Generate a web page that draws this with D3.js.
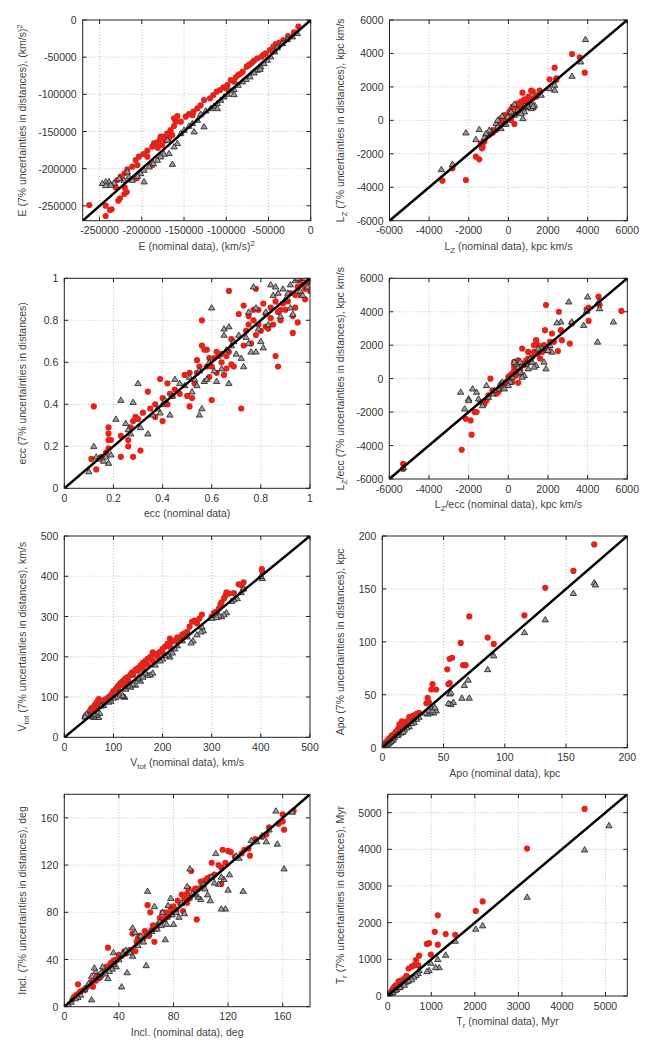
<!DOCTYPE html>
<html>
<head>
<meta charset="utf-8">
<script src="https://cdn.jsdelivr.net/npm/d3@7"></script>
<style>
  body { margin: 0; background: #fff; }
  svg { display: block; font-family: "Liberation Sans", Arial, sans-serif; }
</style>
</head>
<body>
<svg id="chart" width="649" height="1046"></svg>
<script>
// Orbital parameters: nominal data vs. 7% distance uncertainties
// red = circles, gray = triangles; pairs are [nominal, perturbed]

// E, in units of 1000 (km/s)^2
const eRed = [
  [-14.6,-9.0],[-19.7,-16.6],[-26.8,-21.5],[-32.4,-26.9],[-37.1,-30.5],[-41.4,-32.3],[-44.2,-35.9],
  [-48.2,-40.4],[-53.3,-44.9],[-58.0,-49.3],[-63.2,-51.6],[-67.1,-54.7],[-73.0,-60.5],[-75.8,-62.8],
  [-80.5,-69.5],[-83.7,-72.7],[-88.8,-77.1],[-90.8,-83.0],[-94.7,-80.7],[-98.7,-87.5],[-103.4,-90.6],
  [-107.4,-94.2],[-111.3,-96.4],[-115.3,-100.9],[-119.2,-105.4],[-126.3,-107.6],[-130.3,-114.8],
  [-134.2,-118.9],[-138.9,-123.3],[-144.1,-126.5],[-148.0,-130.1],[-153.9,-136.8],[-159.9,-136.8],
  [-161.8,-142.6],[-165.8,-148.0],[-169.7,-152.5],[-173.7,-157.0],[-178.4,-160.6],[-182.4,-165.0],
  [-187.5,-170.4],[-193.4,-175.8],[-198.1,-180.3],[-203.3,-183.9],[-207.2,-188.4],[-211.2,-197.3],
  [-217.1,-200.9],[-220.2,-206.3],[-225.0,-210.8],[-228.9,-215.3],[-205.2,-195.1],[-193.4,-183.9],
  [-185.5,-165.9],[-177.6,-157.0],[-161.8,-132.3],[-157.9,-129.2],[-187.5,-195.1],[-206.0,-213.0],
  [-262.2,-248.9],[-242.8,-249.8],[-242.8,-263.7],[-237.7,-255.6],[-235.7,-254.7],[-227.8,-243.1],
  [-225.8,-239.9],[-220.7,-234.1],[-217.9,-231.4],[-220.2,-225.6],[-230.9,-225.1],[-172.0,-162.0],
  [-176.0,-168.0],[-168.0,-160.0],[-181.0,-172.0],[-164.0,-155.0],[-140.0,-128.0],[-100.0,-92.0],
  [-86.0,-74.0],[-70.0,-58.0],[-56.0,-47.0]
];
const eGray = [
  [-15.8,-17.9],[-21.7,-22.4],[-27.6,-26.0],[-33.5,-31.4],[-39.5,-36.8],[-42.6,-42.6],[-47.4,-49.3],
  [-51.3,-53.8],[-55.3,-58.3],[-59.2,-62.8],[-63.2,-67.3],[-67.1,-70.9],[-71.8,-76.2],[-76.6,-79.8],
  [-80.9,-83.0],[-86.0,-87.5],[-90.8,-93.3],[-94.7,-95.1],[-98.7,-99.6],[-102.6,-103.2],[-106.6,-107.6],
  [-110.5,-112.1],[-114.5,-115.7],[-118.4,-118.9],[-124.3,-122.0],[-130.3,-126.5],[-134.2,-134.6],
  [-140.1,-139.0],[-144.1,-142.6],[-150.0,-148.0],[-153.9,-152.5],[-157.9,-165.9],[-161.8,-170.4],
  [-163.8,-193.8],[-167.7,-179.4],[-173.7,-180.3],[-177.6,-183.9],[-181.6,-188.4],[-186.3,-192.9],
  [-191.4,-197.3],[-197.3,-201.8],[-201.3,-206.3],[-197.3,-217.5],[-205.2,-209.9],[-211.2,-215.3],
  [-215.1,-210.8],[-217.1,-204.1],[-221.0,-215.3],[-226.9,-213.0],[-232.9,-218.9],[-238.8,-217.5],
  [-242.7,-217.5],[-246.7,-219.8],[-236.8,-222.0],[-242.7,-222.5],[-169.7,-161.5],[-138.1,-150.2],
  [-126.3,-143.5],[-110.5,-118.9],[-90.8,-100.0],[-60.0,-66.0]
];

// L_Z, kpc km/s
const lzRed = [
  [3211,3966],[2332,3149],[3853,2850],[3600,3767],[2417,2511],[2079,2451],[2417,2411],[1572,1774],
  [1234,1714],[1149,1774],[710,1654],[1014,1415],[811,1256],[642,1116],[473,1016],[304,857],[135,658],
  [51,518],[220,817],[389,777],[558,917],[811,977],[980,1216],[389,419],[220,319],[-118,219],[-203,319],
  [-287,60],[-372,-80],[-541,-279],[-625,-578],[-794,-737],[-963,-877],[-1132,-977],[-1217,-1276],
  [-1301,-1575],[-1386,-1375],[-1335,-1674],[-1639,-2172],[-1470,-2332],[-2146,-3567],[-3330,-3607],
  [-2823,-2870],[304,-219],[135,20],[558,618],[642,777],[811,717],[1065,1016],[1234,1315],[1403,1415],
  [1487,1515],[-34,319],[-118,20],[-372,120],[473,717],[-794,-578],[700,900],[500,600],[900,800]
];
const lzGray = [
  [3887,4843],[3651,3508],[3211,2651],[2332,2113],[2079,1913],[2332,1814],[1656,1515],[1149,817],
  [1234,777],[1149,717],[980,817],[811,518],[727,120],[642,419],[473,618],[304,977],[135,518],[-34,219],
  [-203,-219],[-372,-478],[-625,-179],[-541,-379],[-879,-678],[-963,-578],[-1132,-777],[-1217,-1016],
  [-1470,-538],[-1639,-1136],[-2146,-737],[-2823,-2611],[-3381,-2930],[-118,-219],[-541,20],[-321,259],
  [304,319],[811,857],[1318,917],[1200,950],[1250,850]
];

// eccentricity
const eccRed = [
  [0.12,0.39],[0.11,0.14],[0.13,0.09],[0.15,0.15],[0.17,0.17],[0.18,0.29],[0.18,0.26],[0.18,0.23],
  [0.19,0.23],[0.18,0.19],[0.23,0.25],[0.23,0.15],[0.26,0.23],[0.26,0.20],[0.27,0.29],[0.28,0.15],
  [0.29,0.34],[0.30,0.33],[0.31,0.18],[0.32,0.36],[0.28,0.32],[0.34,0.46],[0.37,0.40],[0.37,0.34],
  [0.39,0.52],[0.40,0.32],[0.40,0.43],[0.42,0.40],[0.42,0.50],[0.43,0.45],[0.44,0.44],[0.45,0.47],
  [0.47,0.45],[0.49,0.54],[0.50,0.44],[0.51,0.39],[0.51,0.55],[0.52,0.43],[0.53,0.50],[0.54,0.55],
  [0.54,0.61],[0.56,0.68],[0.56,0.80],[0.57,0.66],[0.58,0.66],[0.59,0.62],[0.60,0.42],[0.60,0.58],
  [0.62,0.55],[0.62,0.65],[0.64,0.64],[0.64,0.60],[0.65,0.54],[0.66,0.57],[0.66,0.63],[0.67,0.94],
  [0.67,0.65],[0.68,0.59],[0.68,0.71],[0.69,0.58],[0.71,0.83],[0.72,0.38],[0.73,0.68],[0.73,0.87],
  [0.74,0.75],[0.75,0.78],[0.75,0.82],[0.76,0.69],[0.77,0.85],[0.77,0.80],[0.78,0.73],[0.78,0.95],
  [0.79,0.85],[0.79,0.78],[0.80,0.75],[0.81,0.88],[0.82,0.83],[0.82,0.77],[0.83,0.76],[0.84,0.81],
  [0.85,0.78],[0.86,0.63],[0.87,0.58],[0.86,0.89],[0.87,0.84],[0.88,0.80],[0.88,0.85],[0.89,0.88],
  [0.90,0.85],[0.91,0.89],[0.92,0.93],[0.93,0.74],[0.93,0.82],[0.94,0.86],[0.94,0.92],[0.95,0.79],
  [0.95,0.96],[0.96,0.92],[0.97,0.97],[0.98,0.95],[0.99,0.98],[1.00,0.94],[0.96,0.99],[0.98,0.90],
  [0.84,0.86],[0.55,0.58],[0.59,0.53],[0.35,0.38],[0.58,0.58],[0.61,0.62],[0.63,0.63]
];
const eccGray = [
  [0.10,0.08],[0.12,0.20],[0.13,0.15],[0.14,0.14],[0.16,0.13],[0.17,0.15],[0.18,0.12],[0.19,0.16],
  [0.21,0.33],[0.23,0.42],[0.25,0.31],[0.26,0.28],[0.27,0.26],[0.28,0.41],[0.30,0.50],[0.31,0.29],
  [0.34,0.26],[0.36,0.35],[0.38,0.38],[0.39,0.36],[0.40,0.40],[0.41,0.42],[0.43,0.35],[0.44,0.44],
  [0.45,0.52],[0.47,0.50],[0.49,0.49],[0.51,0.53],[0.52,0.46],[0.53,0.52],[0.54,0.49],[0.55,0.56],
  [0.55,0.35],[0.56,0.38],[0.57,0.51],[0.58,0.52],[0.59,0.60],[0.60,0.86],[0.61,0.56],[0.62,0.51],
  [0.64,0.57],[0.65,0.73],[0.65,0.76],[0.66,0.66],[0.67,0.50],[0.67,0.77],[0.68,0.68],[0.69,0.70],
  [0.70,0.64],[0.71,0.73],[0.72,0.62],[0.73,0.58],[0.74,0.72],[0.75,0.69],[0.76,0.65],[0.77,0.96],
  [0.78,0.65],[0.78,0.86],[0.79,0.76],[0.80,0.70],[0.81,0.67],[0.82,0.84],[0.83,0.78],[0.84,0.97],
  [0.85,0.92],[0.86,0.96],[0.87,0.93],[0.88,0.82],[0.89,0.95],[0.90,0.90],[0.91,0.93],[0.92,0.86],
  [0.93,0.83],[0.94,0.99],[0.95,1.00],[0.96,0.94],[0.97,0.92],[0.98,1.00],[0.99,0.96],[0.75,0.84],
  [0.92,0.97]
];

// L_Z / ecc, kpc km/s
const lzeRed = [
  [5700,4050],[4550,4900],[4600,4400],[4050,4250],[3950,4150],[4050,3450],[3100,2100],[3200,3300],
  [2650,2900],[2700,2300],[2550,4000],[1900,4400],[1850,2900],[2500,1650],[2200,2700],[2100,2200],
  [2000,1800],[1800,2000],[1700,1600],[1600,1200],[1500,2000],[1400,2300],[1300,1600],[1200,1300],
  [1100,1000],[1000,1600],[900,1100],[800,800],[700,1800],[600,500],[500,900],[400,600],[300,700],
  [200,300],[100,200],[0,100],[-100,-200],[-200,-300],[-300,-500],[-400,-600],[-500,-800],[-600,-900],
  [-800,-700],[-900,0],[-1000,-1000],[-1100,-1300],[-1200,-1500],[-1400,-1400],[-1600,-2000],
  [-1700,-2000],[-1900,-2500],[-1850,-3350],[-2150,-2400],[-2350,-4250],[-5300,-5100],[-5300,-5400],
  [300,1000],[400,200],[500,1100],[200,-200],[600,300],[1300,2000],[1900,1700],[500,-250],[300,500],
  [700,900],[1000,1200],[1500,1500],[2300,2200]
];
const lzeGray = [
  [5300,3400],[4500,2200],[4600,4200],[4550,4600],[4000,4900],[3950,4050],[3800,3200],[3050,4600],
  [3200,3400],[2650,3400],[2450,3350],[2200,1600],[1900,600],[1800,1000],[2100,2000],[2000,1700],
  [1700,1800],[1500,1800],[1400,800],[1300,700],[1200,1000],[1100,1200],[1000,600],[800,200],[700,100],
  [600,400],[500,700],[400,900],[300,1000],[200,100],[100,-200],[0,-400],[-200,-600],[-400,-300],
  [-500,-600],[-700,-700],[-800,-900],[-1000,-1100],[-1100,-400],[-1300,-1600],[-1500,-1200],
  [-1600,-800],[-1800,-600],[-2000,-1200],[-2000,-1300],[-2200,-1800],[-2400,-800],[-5300,-5300],
  [-300,-200],[900,900],[600,1000]
];

// V_tot, km/s
const vRed = [
  [402,418],[403,412],[365,385],[360,378],[355,380],[365,368],[345,358],[330,360],[328,352],[325,345],
  [320,335],[318,330],[315,320],[310,312],[305,310],[280,305],[275,295],[265,290],[260,287],[270,283],
  [255,275],[250,262],[245,258],[240,255],[230,248],[225,240],[220,238],[215,245],[210,232],[205,225],
  [200,220],[195,212],[190,208],[180,211],[185,205],[175,200],[170,195],[165,190],[160,185],[158,180],
  [155,178],[150,172],[145,168],[140,162],[137,160],[135,155],[130,150],[128,145],[125,147],[122,142],
  [120,140],[118,138],[115,135],[112,130],[110,128],[108,125],[105,120],[100,115],[98,110],[95,105],
  [90,100],[85,95],[80,92],[75,88],[70,95],[68,90],[65,85],[62,80],[60,75],[55,72],[52,65],[50,60],
  [45,55],[42,50],[65,70],[72,80],[90,95],[100,105],[110,118],[120,130],[140,155],[150,165],[160,170],
  [170,180],[180,190],[190,200],[200,210],[215,225],[230,240],[240,248],[250,258],[125,135],[130,140],
  [335,357],[300,300]
];
const vGray = [
  [403,395],[400,400],[365,370],[360,360],[352,345],[345,342],[340,338],[330,310],[325,305],[320,300],
  [315,302],[310,298],[300,296],[283,265],[278,262],[270,255],[262,240],[258,235],[250,250],[240,240],
  [230,228],[220,210],[215,200],[210,205],[205,203],[200,195],[195,190],[180,160],[175,155],[170,155],
  [165,160],[160,150],[155,140],[150,145],[145,130],[140,132],[135,125],[125,120],[123,100],[120,102],
  [118,104],[110,108],[105,100],[100,98],[95,90],[90,88],[80,80],[75,78],[72,60],[70,50],[65,55],
  [60,50],[55,52],[50,55],[45,58],[42,52],[60,58],[150,148],[130,128],[185,180],[225,220],[280,275]
];

// Apocentre, kpc
const apoRed = [
  [173,192],[156,167],[133,151],[116,125],[71,124],[64,99],[86,104],[91,98],[68,78],[66,78],[57,85],
  [55,84],[53,74],[54,60],[55,61],[44,55],[41,60],[40,55],[37,47],[38,43],[36,42],[30,33],[28,32],
  [25,30],[22,29],[20,25],[18,22],[16,25],[15,20],[13,18],[12,16],[10,13],[9,12],[8,12],[7,10],[6,9],
  [5,8],[4,6],[3,5],[2,3],[1,2],[1,1],[11,15],[14,22],[19,24],[24,28],[27,31],[3,3],[6,7]
];
const apoGray = [
  [173,156],[174,154],[156,146],[133,121],[116,109],[91,87],[86,74],[70,64],[71,47],[67,59],[65,47],
  [58,43],[56,41],[54,42],[55,51],[56,52],[44,35],[42,33],[40,38],[39,33],[37,32],[38,35],[30,29],
  [28,27],[25,25],[22,20],[20,19],[18,17],[16,15],[15,14],[13,12],[12,12],[10,10],[9,8],[8,7],[7,6],
  [6,5],[5,4],[4,3],[3,2],[2,2],[1,1],[41,35],[43,38],[26,24],[24,23],[35,33],[17,15]
];

// Inclination, deg
const inclRed = [
  [168,166],[160,163],[161,150],[160,157],[157,155],[150,152],[148,146],[145,144],[140,142],[136,128],
  [135,134],[132,133],[130,130],[125,127],[122,131],[120,132],[118,122],[116,133],[115,118],[113,120],
  [110,112],[108,122],[107,110],[105,109],[103,107],[100,106],[98,100],[96,100],[95,98],[93,115],
  [92,92],[91,100],[90,96],[90,88],[88,92],[86,95],[85,87],[83,90],[82,82],[80,85],[79,80],[78,84],
  [77,78],[76,76],[75,80],[74,75],[73,74],[72,80],[71,72],[70,75],[69,70],[68,68],[67,66],[65,69],
  [64,65],[63,80],[62,60],[61,86],[60,62],[59,64],[58,58],[57,56],[56,57],[55,60],[54,58],[53,55],
  [52,47],[50,62],[49,48],[48,48],[46,46],[45,45],[44,47],[42,43],[40,44],[38,40],[37,38],[36,39],
  [35,35],[34,37],[33,32],[32,50],[31,34],[30,31],[29,30],[28,28],[27,26],[26,25],[25,24],[24,27],
  [23,22],[22,23],[21,17],[20,21],[18,18],[16,16],[15,14],[14,14],[12,13],[11,12],[10,19],[9,10],
  [8,9],[7,8],[6,6],[97,74],[66,55],[87,81],[101,104],[115,104]
];
const inclGray = [
  [167,165],[161,117],[156,138],[155,166],[150,150],[148,140],[145,145],[141,140],[137,141],[131,98],
  [128,126],[126,128],[121,112],[120,99],[118,83],[115,83],[117,108],[115,110],[113,104],[111,130],
  [110,105],[108,110],[107,90],[105,95],[103,100],[102,104],[100,91],[98,93],[96,95],[94,96],[92,117],
  [90,102],[88,79],[86,88],[84,76],[82,80],[80,70],[78,92],[76,86],[75,70],[74,57],[72,80],[70,72],
  [68,66],[66,85],[64,64],[62,62],[61,98],[60,35],[58,55],[56,60],[54,52],[50,67],[50,43],[48,46],
  [46,29],[45,48],[43,45],[42,17],[40,40],[38,34],[36,46],[35,32],[33,30],[32,24],[30,28],[28,34],
  [27,29],[25,25],[23,30],[22,33],[20,6],[20,26],[18,20],[15,15],[12,10],[10,8],[8,7],[5,4],[3,2],
  [36,36],[52,63],[71,69],[79,78]
];

// Radial period T_r, Myr
const trRed = [
  [4520,5100],[3200,4020],[2180,2580],[2020,2320],[1550,1670],[1330,1690],[1150,2200],[1150,1400],
  [1080,1750],[950,1440],[900,1420],[990,1130],[720,1100],[650,980],[700,840],[600,830],[550,800],
  [480,750],[430,550],[380,470],[350,430],[300,420],[250,400],[200,300],[150,250],[120,200],[100,150],
  [70,100],[50,60],[30,40],[20,20],[10,10],[420,500],[270,350],[180,280],[620,850],[90,120],[60,80]
];
const trGray = [
  [5080,4650],[4520,3990],[3200,2700],[2180,1920],[2020,1830],[1550,1500],[1330,1120],[1150,1000],
  [1180,780],[1100,780],[990,900],[950,700],[900,670],[720,700],[700,620],[650,570],[600,520],
  [500,480],[450,400],[400,370],[350,330],[300,280],[250,230],[200,180],[150,150],[100,100],[70,60],
  [40,30],[20,15],[10,5],[550,450],[480,420],[380,300],[280,240],[180,170],[120,100]
];

// Tick values per panel
const eTicks = [-250, -200, -150, -100, -50, 0];
const lzTicks = [-6000, -4000, -2000, 0, 2000, 4000, 6000];
const eccTicks = [0, 0.2, 0.4, 0.6, 0.8, 1];
const vTicks = [0, 100, 200, 300, 400, 500];
const apoTicks = [0, 50, 100, 150, 200];
const inclTicks = [0, 40, 80, 120, 160];
const trTicks = [0, 1000, 2000, 3000, 4000, 5000];

const RED = '#e3241b';
const TRI_FILL = '#9a9a9a';
const TRI_STROKE = '#1e1e1e';

// label parts: [text, 'sub' | 'sup' | '']
const P = (...parts) => parts;

const panels = [
  { red: eRed, gray: eGray, domain: [-270, 0], ticks: eTicks, fmt: d => String(d * 1000),
    box: [82.7, 20, 310.7, 220.7],
    xlab: P(['E (nominal data), (km/s)', ''], ['2', 'sup']),
    ylab: P(['E (7% uncertainties in distances), (km/s)', ''], ['2', 'sup']) },
  { red: lzRed, gray: lzGray, domain: [-6000, 6000], ticks: lzTicks, fmt: String,
    box: [389.5, 20, 627.3, 220.7],
    xlab: P(['L', ''], ['Z', 'sub'], [' (nominal data), kpc km/s', '']),
    ylab: P(['L', ''], ['Z', 'sub'], [' (7% uncertainties in distances), kpc km/s', '']) },
  { red: eccRed, gray: eccGray, domain: [0, 1], ticks: eccTicks, fmt: String,
    box: [64.3, 278.3, 310, 488.3],
    xlab: P(['ecc (nominal data)', '']),
    ylab: P(['ecc (7% uncertainties in distances)', '']) },
  { red: lzeRed, gray: lzeGray, domain: [-6000, 6000], ticks: lzTicks, fmt: String,
    box: [389.3, 278.3, 627.3, 479],
    xlab: P(['L', ''], ['Z', 'sub'], ['/ecc (nominal data), kpc km/s', '']),
    ylab: P(['L', ''], ['Z', 'sub'], ['/ecc (7% uncertainties in distances), kpc km/s', '']) },
  { red: vRed, gray: vGray, domain: [0, 500], ticks: vTicks, fmt: String,
    box: [64.3, 536, 310, 737.3],
    xlab: P(['V', ''], ['tot', 'sub'], [' (nominal data), km/s', '']),
    ylab: P(['V', ''], ['tot', 'sub'], [' (7% uncertainties in distances), km/s', '']) },
  { red: apoRed, gray: apoGray, domain: [0, 200], ticks: apoTicks, fmt: String,
    box: [382.3, 536, 627.3, 747.7],
    xlab: P(['Apo (nominal data), kpc', '']),
    ylab: P(['Apo (7% uncertainties in distances), kpc', '']) },
  { red: inclRed, gray: inclGray, domain: [0, 180], ticks: inclTicks, fmt: String,
    box: [64.3, 794.3, 310, 1006.7],
    xlab: P(['Incl. (nominal data), deg', '']),
    ylab: P(['Incl. (7% uncertainties in distances), deg', '']) },
  { red: trRed, gray: trGray, domain: [0, 5500], ticks: trTicks, fmt: String,
    box: [387.7, 794.3, 627.3, 996],
    xlab: P(['T', ''], ['r', 'sub'], [' (nominal data), Myr', '']),
    ylab: P(['T', ''], ['r', 'sub'], [' (7% uncertainties in distances), Myr', '']) }
];

const svg = d3.select('#chart');

function addLabel(g, parts, x, y, rotate) {
  const t = g.append('text')
    .attr('transform', `translate(${x},${y})` + (rotate ? ' rotate(-90)' : ''))
    .attr('text-anchor', 'middle')
    .attr('font-size', '10.5px')
    .attr('fill', '#444');
  let shift = 0;
  parts.forEach(([s, mode]) => {
    const target = mode === 'sub' ? 3 : mode === 'sup' ? -4 : 0;
    const sp = t.append('tspan').attr('dy', target - shift).text(s);
    if (mode) sp.attr('font-size', '8px');
    shift = target;
  });
}

panels.forEach((p, i) => {
  const [x0, y0, x1, y1] = p.box;
  const x = d3.scaleLinear().domain(p.domain).range([x0, x1]);
  const y = d3.scaleLinear().domain(p.domain).range([y1, y0]);
  const g = svg.append('g');

  const clipId = 'clip' + i;
  g.append('clipPath').attr('id', clipId)
    .append('rect').attr('x', x0).attr('y', y0).attr('width', x1 - x0).attr('height', y1 - y0);

  // dotted grid
  const inner = p.ticks.filter(t => t > p.domain[0] && t < p.domain[1]);
  const grid = g.append('g')
    .attr('stroke', '#b4b4b4').attr('stroke-width', 0.8).attr('stroke-dasharray', '1,2');
  grid.selectAll('line.v').data(inner).join('line').attr('class', 'v')
    .attr('x1', d => x(d)).attr('x2', d => x(d)).attr('y1', y0).attr('y2', y1);
  grid.selectAll('line.h').data(inner).join('line').attr('class', 'h')
    .attr('y1', d => y(d)).attr('y2', d => y(d)).attr('x1', x0).attr('x2', x1);

  // ticks on all four sides, inward
  const tk = g.append('g').attr('stroke', '#222').attr('stroke-width', 1);
  p.ticks.forEach(t => {
    tk.append('line').attr('x1', x(t)).attr('x2', x(t)).attr('y1', y1).attr('y2', y1 - 4);
    tk.append('line').attr('x1', x(t)).attr('x2', x(t)).attr('y1', y0).attr('y2', y0 + 4);
    tk.append('line').attr('y1', y(t)).attr('y2', y(t)).attr('x1', x0).attr('x2', x0 + 4);
    tk.append('line').attr('y1', y(t)).attr('y2', y(t)).attr('x1', x1).attr('x2', x1 - 4);
  });

  // tick labels
  g.append('g').selectAll('text').data(p.ticks).join('text')
    .attr('x', d => x(d)).attr('y', y1 + 13.5)
    .attr('text-anchor', 'middle').attr('font-size', '10.5px').attr('fill', '#333')
    .text(p.fmt);
  g.append('g').selectAll('text').data(p.ticks).join('text')
    .attr('x', x0 - 6).attr('y', d => y(d) + 4)
    .attr('text-anchor', 'end').attr('font-size', '10.5px').attr('fill', '#333')
    .text(p.fmt);

  const plot = g.append('g').attr('clip-path', `url(#${clipId})`);

  // red circles
  plot.append('g').selectAll('circle').data(p.red).join('circle')
    .attr('cx', d => x(d[0])).attr('cy', d => y(d[1])).attr('r', 3.1)
    .attr('fill', RED);

  // gray triangles
  plot.append('g').selectAll('path').data(p.gray).join('path')
    .attr('transform', d => `translate(${x(d[0])},${y(d[1])})`)
    .attr('d', 'M0,-3.1L3.2,2.3L-3.2,2.3Z')
    .attr('fill', TRI_FILL).attr('stroke', TRI_STROKE).attr('stroke-width', 0.8);

  // one-to-one line
  plot.append('line')
    .attr('x1', x(p.domain[0])).attr('y1', y(p.domain[0]))
    .attr('x2', x(p.domain[1])).attr('y2', y(p.domain[1]))
    .attr('stroke', '#000').attr('stroke-width', 2.5);

  // frame
  g.append('rect').attr('x', x0).attr('y', y0).attr('width', x1 - x0).attr('height', y1 - y0)
    .attr('fill', 'none').attr('stroke', '#222').attr('stroke-width', 1);

  // axis titles
  addLabel(g, p.xlab, (x0 + x1) / 2, y1 + 29, false);
  addLabel(g, p.ylab, i % 2 === 0 ? 26 : 344, (y0 + y1) / 2, true);
});
</script>
</body>
</html>
